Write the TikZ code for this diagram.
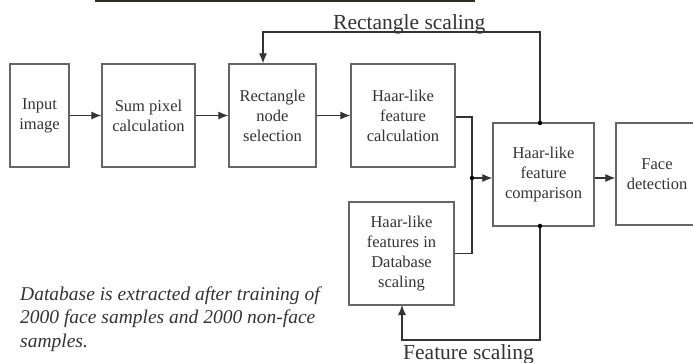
\documentclass[tikz,border=0pt]{standalone}
\usepackage{fontspec}
\setmainfont{Liberation Serif}
\usetikzlibrary{arrows.meta}
\definecolor{boxc}{HTML}{666666}
\definecolor{txt}{HTML}{333333}
\begin{document}
\begin{tikzpicture}[x=1pt,y=-1pt,
  blk/.style={draw=boxc, line width=1.3pt, text=txt, align=center, inner sep=0pt,
    font=\fontsize{16.5}{20}\selectfont},
  conn/.style={draw=txt, line width=1.1pt},
  arr/.style={conn, -{Latex[length=10pt,width=8pt]}},
  jdot/.style={circle, fill=black, inner sep=0pt, minimum size=4.5pt},
  lbl/.style={text=txt, font=\fontsize{21.5}{24}\selectfont, inner sep=0pt}]
\useasboundingbox (0,0) rectangle (693,363);
\begin{scope}
\clip (0,0) rectangle (693,363);
\fill[color={rgb,255:red,46;green,46;blue,34}] (95,0) rectangle (475,2);
\node[blk, minimum width=59pt, minimum height=103pt] (in) at (39.5,115.5) {Input\\image};
\node[blk, minimum width=93pt, minimum height=103pt] (sum) at (148.5,115.5) {Sum pixel\\calculation};
\node[blk, minimum width=87pt, minimum height=103pt] (rns) at (272.5,115.5) {Rectangle\\node\\selection};
\node[blk, minimum width=104pt, minimum height=103pt] (hfc) at (403,115.5) {Haar-like\\feature\\calculation};
\node[blk, minimum width=101pt, minimum height=103pt] (cmp) at (543.5,174.5) {Haar-like\\feature\\comparison};
\node[blk, minimum width=82pt, minimum height=102pt] (fd) at (657,174) {Face\\detection};
\node[blk, minimum width=105pt, minimum height=103pt] (db) at (401.5,253.5) {Haar-like\\features in\\Database\\scaling};
\end{scope}
\draw[arr] (in.east) -- (sum.west);
\draw[arr] (sum.east) -- (rns.west);
\draw[arr] (rns.east) -- (hfc.west);
\coordinate (j) at (472,178);
\draw[conn] (hfc.east |- 0,117) -| (j);
\draw[conn] (db.east) -| (j);
\draw[arr] (j) -- (cmp.west |- j);
\node[jdot] at (j) {};
\draw[arr] (cmp.east |- j) -- (fd.west |- j);
\coordinate (tp) at (540,123);
\coordinate (bt) at (540,226);
\draw[arr] (tp) -- (540,32) -| (rns.north -| 263,0);
\node[jdot] at (tp) {};
\draw[arr] (bt) -- (540,340) -| (402,305);
\node[jdot] at (bt) {};
\node[lbl, anchor=base west] (rs) at (333,30) {Rectangle scaling};
\node[lbl, anchor=base west] (fs) at (403,359) {Feature scaling};
\node[text=txt, anchor=base west, align=left, inner sep=0pt,
  font=\fontsize{19.5}{23.5}\selectfont\itshape] (note) at (20,347)
  {Database is extracted after training of\\2000 face samples and 2000 non-face\\samples.};
\end{tikzpicture}
\end{document}
